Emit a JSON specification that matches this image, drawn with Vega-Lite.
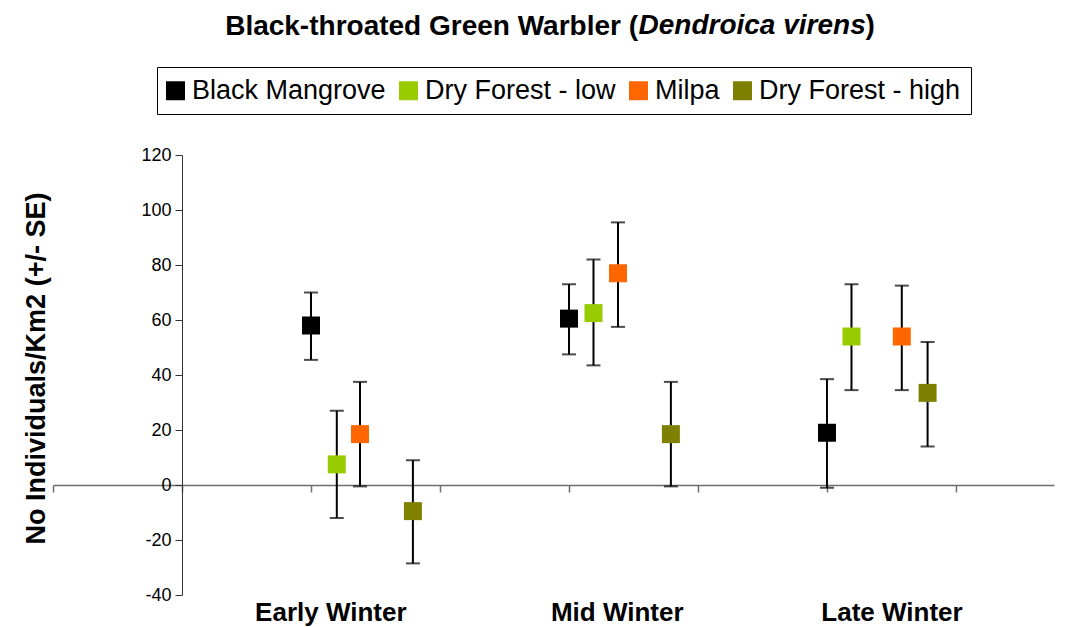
{
  "$schema": "https://vega.github.io/schema/vega-lite/v6.json",
  "autosize": {"type": "none"},
  "width": 1001,
  "height": 440,
  "padding": {"left": 53, "top": 155, "right": 23, "bottom": 32},
  "background": "white",
  "config": {
    "font": "Liberation Sans",
    "view": {"stroke": null},
    "axis": {"grid": false, "labelFont": "Liberation Sans", "titleFont": "Liberation Sans", "labelColor": "black", "titleColor": "black"}
  },
  "title": {
    "text": "Black-throated Green Warbler (",
    "anchor": "start",
    "frame": "group",
    "align": "right",
    "dx": 585,
    "dy": 56,
    "fontSize": 28,
    "fontWeight": "bold",
    "font": "Liberation Sans",
    "color": "black",
    "baseline": "alphabetic"
  },
  "data": {
    "values": [
      {"season": "Early Winter", "habitat": "Black Mangrove", "x": 2.0, "mean": 58, "lo": 45.5, "hi": 70},
      {"season": "Early Winter", "habitat": "Dry Forest - low", "x": 2.2, "mean": 7.5, "lo": -12, "hi": 27},
      {"season": "Early Winter", "habitat": "Milpa", "x": 2.38, "mean": 18.5, "lo": -0.5, "hi": 37.5},
      {"season": "Early Winter", "habitat": "Dry Forest - high", "x": 2.79, "mean": -9.5, "lo": -28.5, "hi": 9},
      {"season": "Mid Winter", "habitat": "Black Mangrove", "x": 4.0, "mean": 60.5, "lo": 47.5, "hi": 73},
      {"season": "Mid Winter", "habitat": "Dry Forest - low", "x": 4.19, "mean": 62.5, "lo": 43.5, "hi": 82},
      {"season": "Mid Winter", "habitat": "Milpa", "x": 4.38, "mean": 77, "lo": 57.5, "hi": 95.5},
      {"season": "Mid Winter", "habitat": "Dry Forest - high", "x": 4.79, "mean": 18.5, "lo": -0.5, "hi": 37.5},
      {"season": "Late Winter", "habitat": "Black Mangrove", "x": 6.0, "mean": 19, "lo": -1, "hi": 38.5},
      {"season": "Late Winter", "habitat": "Dry Forest - low", "x": 6.19, "mean": 54, "lo": 34.5, "hi": 73},
      {"season": "Late Winter", "habitat": "Milpa", "x": 6.58, "mean": 54, "lo": 34.5, "hi": 72.5},
      {"season": "Late Winter", "habitat": "Dry Forest - high", "x": 6.78, "mean": 33.5, "lo": 14, "hi": 52}
    ]
  },
  "resolve": {"axis": {"x": "independent"}},
  "layer": [
    {
      "mark": {"type": "rule", "color": "black", "strokeWidth": 2},
      "encoding": {
        "x": {
          "field": "x", "type": "quantitative",
          "scale": {"domain": [0, 7.76], "nice": false, "zero": false},
          "axis": {
            "orient": "bottom", "offset": -110,
            "values": [0, 1, 2, 3, 4, 5, 6, 7],
            "labels": false, "ticks": true, "tickSize": 7, "tickColor": "#6e6e6e", "tickWidth": 1.5,
            "domain": true, "domainColor": "#6e6e6e", "domainWidth": 1.5,
            "title": "Dendroica virens",
            "titleX": 585, "titleY": -452, "titleAlign": "left", "titleAnchor": null,
            "titleBaseline": "alphabetic", "titleFontSize": 28, "titleFontWeight": "bold", "titleFontStyle": "italic", "titleAngle": 0
          }
        },
        "y": {
          "field": "lo", "type": "quantitative",
          "title": "No Individuals/Km2 (+/- SE)",
          "scale": {"domain": [-40, 120], "nice": false, "zero": false},
          "axis": {
            "offset": -129,
            "values": [-40, -20, 0, 20, 40, 60, 80, 100, 120],
            "labelExpr": "datum.value + ''",
            "labelFontSize": 18, "labelPadding": 4,
            "tickSize": 7, "tickColor": "#333333", "domainColor": "#333333",
            "titleFontSize": 27, "titleFontWeight": "bold",
            "titleX": -146, "titleY": 213, "titleAngle": 270,
            "titleAlign": "center", "titleBaseline": "middle"
          }
        },
        "y2": {"field": "hi"}
      }
    },
    {
      "mark": {"type": "tick", "orient": "horizontal", "color": "black", "size": 14, "thickness": 2},
      "encoding": {
        "x": {
          "field": "x", "type": "quantitative",
          "scale": {"domain": [0, 7.76], "nice": false, "zero": false},
          "axis": {
            "orient": "bottom", "offset": 0,
            "values": [2.15, 4.37, 6.5],
            "labelExpr": "datum.value < 3 ? 'Early Winter' : datum.value < 5 ? 'Mid Winter' : 'Late Winter'",
            "labelFontSize": 26, "labelFontWeight": "bold", "labelPadding": 4,
            "labelOverlap": false, "labelFlush": false,
            "domain": false, "ticks": false,
            "title": ")",
            "titleX": 812, "titleY": -562, "titleAlign": "left", "titleAnchor": null,
            "titleBaseline": "alphabetic", "titleFontSize": 28, "titleFontWeight": "bold", "titleAngle": 0
          }
        },
        "y": {"field": "lo", "type": "quantitative", "title": "No Individuals/Km2 (+/- SE)"}
      }
    },
    {
      "mark": {"type": "tick", "orient": "horizontal", "color": "black", "size": 14, "thickness": 2},
      "encoding": {
        "x": {"field": "x", "type": "quantitative", "axis": null},
        "y": {"field": "hi", "type": "quantitative", "title": "No Individuals/Km2 (+/- SE)"}
      }
    },
    {
      "mark": {"type": "point", "shape": "square", "filled": true, "size": 324, "opacity": 1, "strokeWidth": 0},
      "encoding": {
        "x": {"field": "x", "type": "quantitative", "axis": null},
        "y": {"field": "mean", "type": "quantitative", "title": "No Individuals/Km2 (+/- SE)"},
        "color": {
          "field": "habitat", "type": "nominal",
          "scale": {
            "domain": ["Black Mangrove", "Dry Forest - low", "Milpa", "Dry Forest - high"],
            "range": ["#000000", "#99CC00", "#FF6600", "#808000"]
          },
          "legend": {
            "orient": "none", "direction": "horizontal",
            "legendX": 104, "legendY": -88,
            "title": null,
            "symbolType": "square", "symbolSize": 361, "symbolStrokeWidth": 0, "symbolOpacity": 1,
            "symbolOffset": -5,
            "labelFontSize": 27, "labelFont": "Liberation Sans", "labelColor": "black", "labelLimit": 0,
            "labelOffset": 3, "columnPadding": 13,
            "strokeColor": "black", "padding": 10
          }
        }
      }
    }
  ]
}
